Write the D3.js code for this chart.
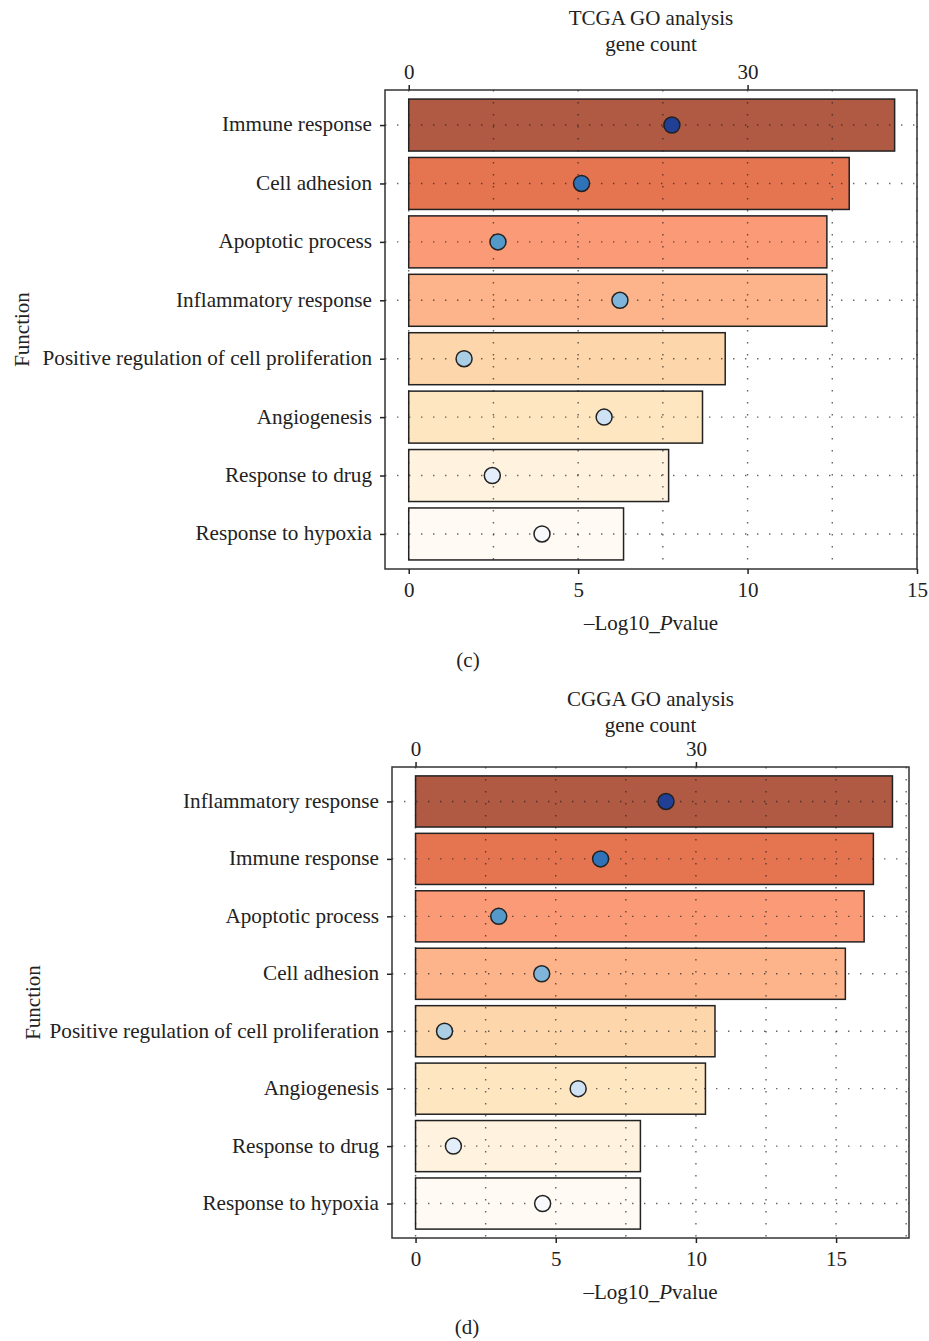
<!DOCTYPE html>
<html>
<head>
<meta charset="utf-8">
<script src="https://cdn.jsdelivr.net/npm/d3@7"></script>
<style>
  html, body { margin: 0; padding: 0; background: #fff; }
  svg { display: block; }
  text { font-family: "Liberation Serif", "DejaVu Serif", serif; fill: #222; }
</style>
</head>
<body>
<svg id="chart" width="929" height="1341"></svg>
<script>
// ---------- data ----------
const tcgaTerms = ["Immune response", "Cell adhesion", "Apoptotic process", "Inflammatory response",
  "Positive regulation of cell proliferation", "Angiogenesis", "Response to drug", "Response to hypoxia"];
const tcgaLogP = [14.34, 13.0, 12.34, 12.34, 9.34, 8.67, 7.67, 6.34];
const tcgaCount = [23.3, 15.3, 7.9, 18.7, 4.9, 17.3, 7.4, 11.8];

const cggaTerms = ["Inflammatory response", "Immune response", "Apoptotic process", "Cell adhesion",
  "Positive regulation of cell proliferation", "Angiogenesis", "Response to drug", "Response to hypoxia"];
const cggaLogP = [17.01, 16.33, 16.0, 15.33, 10.68, 10.34, 8.02, 8.02];
const cggaCount = [26.8, 19.8, 8.9, 13.5, 3.1, 17.4, 4.05, 13.6];

const bottomTicks = [0, 5, 10, 15];
const topTicks = [0, 30];
const barColors = ["#b05a43", "#e57551", "#fa9a76", "#fdb48a", "#fdd7ab", "#fee6c1", "#fff2de", "#fffaf4"];
const dotColors = ["#213f94", "#2f72b7", "#5399c9", "#7fb5da", "#aacfe5", "#cfe2f3", "#e4eefa", "#f7f9fd"];

const svg = d3.select("#chart");
const FS = 21;
const FSL = 21.2;

function panel(cfg) {
  const { terms, logP, counts, title, letter, L, R, T, B, xDomain, titleY, letterX, letterY, funcX } = cfg;
  const g = svg.append("g");
  const x = d3.scaleLinear().domain(xDomain).range([L, R]);
  const xTop = d3.scaleLinear().domain([xDomain[0] * 3, xDomain[1] * 3]).range([L, R]);
  const y = d3.scalePoint().domain(terms).range([T, B]).padding(0.6);
  const bh = y.step() * 0.89;

  // bars
  g.selectAll("rect.bar").data(terms).join("rect")
    .attr("class", "bar")
    .attr("x", x(0))
    .attr("y", d => y(d) - bh / 2)
    .attr("width", (d, i) => x(logP[i]) - x(0))
    .attr("height", bh)
    .attr("fill", (d, i) => barColors[i])
    .attr("stroke", "#222")
    .attr("stroke-width", 1.5);

  // grid (on top)
  const gridV = d3.range(0, xDomain[1] + 0.001, 2.5);
  g.selectAll("line.gv").data(gridV).join("line")
    .attr("x1", d => x(d)).attr("x2", d => x(d))
    .attr("y1", T).attr("y2", B)
    .attr("stroke", "#222").attr("stroke-opacity", 0.7)
    .attr("stroke-width", 1.4).attr("stroke-dasharray", "1.4,10.6");
  g.selectAll("line.gh").data(terms).join("line")
    .attr("x1", L).attr("x2", R)
    .attr("y1", d => y(d)).attr("y2", d => y(d))
    .attr("stroke", "#222").attr("stroke-opacity", 0.7)
    .attr("stroke-width", 1.4).attr("stroke-dasharray", "1.4,10.6");

  // dots
  g.selectAll("circle.dot").data(terms).join("circle")
    .attr("cx", (d, i) => xTop(counts[i]))
    .attr("cy", d => y(d))
    .attr("r", 8)
    .attr("fill", (d, i) => dotColors[i])
    .attr("stroke", "#222")
    .attr("stroke-width", 1.5);

  // frame
  g.append("rect").attr("x", L).attr("y", T).attr("width", R - L).attr("height", B - T)
    .attr("fill", "none").attr("stroke", "#333").attr("stroke-width", 1.5);

  // bottom axis
  const axB = g.append("g").attr("transform", `translate(0,${B})`)
    .call(d3.axisBottom(x).tickValues(bottomTicks).tickSize(5).tickPadding(8).tickFormat(d3.format("d")));
  axB.select(".domain").remove();
  axB.selectAll("line").attr("stroke", "#222").attr("stroke-width", 1.5);
  axB.selectAll("text").attr("font-size", FS).attr("font-family", "Liberation Serif").attr("fill", "#222");

  // top axis
  const axT = g.append("g").attr("transform", `translate(0,${T})`)
    .call(d3.axisTop(xTop).tickValues(topTicks).tickSize(5).tickPadding(6).tickFormat(d3.format("d")));
  axT.select(".domain").remove();
  axT.selectAll("line").attr("stroke", "#222").attr("stroke-width", 1.5);
  axT.selectAll("text").attr("font-size", FS).attr("font-family", "Liberation Serif").attr("fill", "#222");

  // left axis
  const axL = g.append("g").attr("transform", `translate(${L},0)`)
    .call(d3.axisLeft(y).tickSize(5).tickPadding(8));
  axL.select(".domain").remove();
  axL.selectAll("line").attr("stroke", "#222").attr("stroke-width", 1.5);
  axL.selectAll("text").attr("font-size", FSL).attr("font-family", "Liberation Serif").attr("fill", "#222")
    .attr("dy", "0.28em");

  const cx = (L + R) / 2;
  g.append("text").attr("x", cx).attr("y", titleY).attr("text-anchor", "middle")
    .attr("font-size", FS).attr("dy", "0.32em").text(title);
  g.append("text").attr("x", cx).attr("y", titleY + 26).attr("text-anchor", "middle")
    .attr("font-size", FS).attr("dy", "0.32em").text("gene count");

  const xl = g.append("text").attr("x", cx).attr("y", B + 54).attr("text-anchor", "middle")
    .attr("font-size", FS).attr("dy", "0.32em");
  xl.append("tspan").text("\u2013Log10_");
  xl.append("tspan").attr("font-style", "italic").text("P");
  xl.append("tspan").text("value");

  g.append("text").attr("transform", `translate(${funcX},${(T + B) / 2}) rotate(-90)`)
    .attr("text-anchor", "middle").attr("font-size", FS).attr("dy", "0.35em").text("Function");

  g.append("text").attr("x", letterX).attr("y", letterY).attr("text-anchor", "middle")
    .attr("font-size", FS).attr("dy", "0.32em").text(letter);
}

panel({
  terms: tcgaTerms, logP: tcgaLogP, counts: tcgaCount,
  title: "TCGA GO analysis", letter: "(c)",
  L: 385, R: 917, T: 90, B: 569, xDomain: [-0.7, 15],
  titleY: 18, letterX: 468, letterY: 660, funcX: 22
});
panel({
  terms: cggaTerms, logP: cggaLogP, counts: cggaCount,
  title: "CGGA GO analysis", letter: "(d)",
  L: 392, R: 909, T: 767, B: 1238, xDomain: [-0.84, 17.6],
  titleY: 699, letterX: 467, letterY: 1327, funcX: 33
});
</script>
</body>
</html>
